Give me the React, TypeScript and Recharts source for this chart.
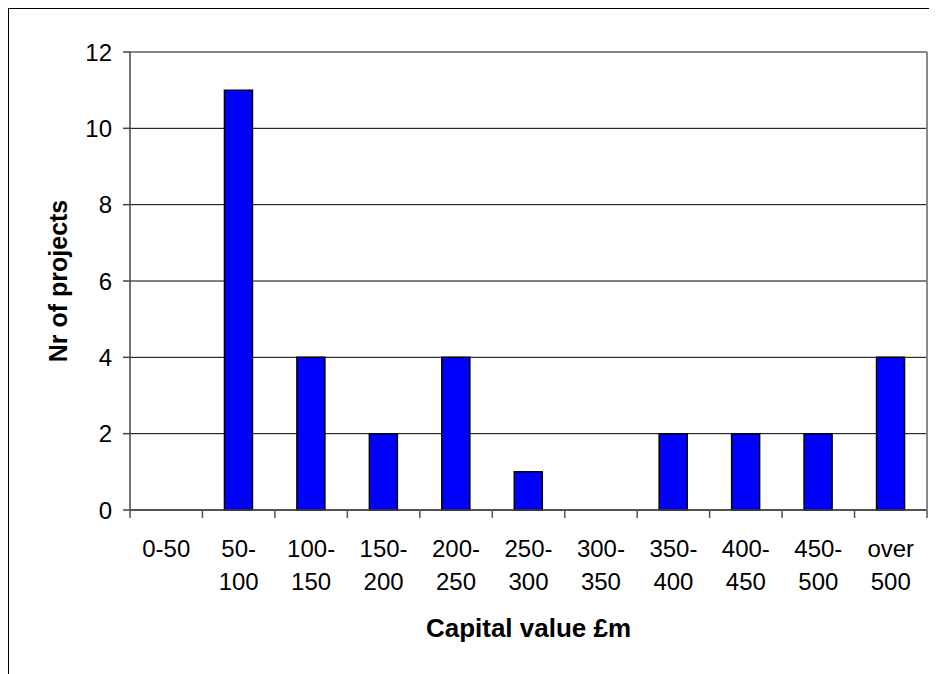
import { BarChart, Bar, XAxis, YAxis, CartesianGrid, ReferenceLine, Label } from 'recharts';

const categories = ['0-50', '50-100', '100-150', '150-200', '200-250', '250-300', '300-350', '350-400', '400-450', '450-500', 'over 500'];
const projectCounts = [0, 11, 4, 2, 4, 1, 0, 2, 2, 2, 4];
const tickLabels = [
  ['0-50'],
  ['50-', '100'],
  ['100-', '150'],
  ['150-', '200'],
  ['200-', '250'],
  ['250-', '300'],
  ['300-', '350'],
  ['350-', '400'],
  ['400-', '450'],
  ['450-', '500'],
  ['over', '500']
];
const yTicks = [0, 2, 4, 6, 8, 10, 12];

const FONT = '"Liberation Sans", Arial, sans-serif';

const data = categories.map((name, i) => ({ name, count: projectCounts[i] }));

// label in the middle of the band, tick marks on the band edges (Excel style)
function CategoryTick(props: any) {
  const { x, y, index, width, visibleTicksCount } = props;
  const band = width / visibleTicksCount;
  const lines = tickLabels[index];
  const left = x - band / 2;
  const right = x + band / 2;
  return (
    <g>
      <line x1={left} x2={left} y1={y - 8} y2={y} stroke="#555" strokeWidth={1.5} />
      {index === visibleTicksCount - 1 && (
        <line x1={right} x2={right} y1={y - 8} y2={y} stroke="#555" strokeWidth={1.5} />
      )}
      <text x={x} y={y} textAnchor="middle" fontSize={24} fill="#000" fontFamily={FONT}>
        {lines.map((l: string, i: number) => (
          <tspan key={i} x={x} dy={i === 0 ? 39 : 33}>
            {l}
          </tspan>
        ))}
      </text>
    </g>
  );
}

export default function App() {
  return (
    <div
      style={{
        width: 929,
        height: 666,
        borderLeft: '1px solid #000',
        borderTop: '1px solid #000',
        background: '#fff',
        fontFamily: FONT
      }}
    >
      <BarChart width={928} height={665} data={data} margin={{ top: 43, right: 0, bottom: 34, left: 61 }}>
        <CartesianGrid vertical={false} stroke="#000" strokeWidth={1} />
        <XAxis
          dataKey="name"
          interval={0}
          tick={<CategoryTick />}
          tickLine={false}
          tickSize={8}
          tickMargin={0}
          height={130}
          axisLine={{ stroke: '#444', strokeWidth: 1.5 }}
        >
          <Label
            value="Capital value £m"
            position="insideBottom"
            offset={3}
            style={{ fontSize: 26, fontWeight: 'bold', fill: '#000', fontFamily: FONT }}
          />
        </XAxis>
        <YAxis
          domain={[0, 12]}
          ticks={yTicks}
          interval={0}
          width={60}
          tickSize={7}
          tickMargin={11}
          tick={{ fontSize: 24, fill: '#000', fontFamily: FONT }}
          tickLine={{ stroke: '#444', strokeWidth: 1.5 }}
          axisLine={{ stroke: '#444', strokeWidth: 1.5 }}
        >
          <Label
            value="Nr of projects"
            angle={-90}
            position="left"
            offset={12}
            textAnchor="middle"
            style={{ fontSize: 25, fontWeight: 'bold', fill: '#000', fontFamily: FONT }}
          />
        </YAxis>
        {/* gray plot frame on the right */}
        <YAxis
          yAxisId="frame"
          orientation="right"
          domain={[0, 12]}
          ticks={yTicks}
          width={10}
          tick={false}
          tickLine={false}
          axisLine={{ stroke: '#888', strokeWidth: 2 }}
        />
        <ReferenceLine y={12} stroke="#888" strokeWidth={1.5} />
        <Bar dataKey="count" fill="#0000FF" stroke="#000" strokeWidth={1.5} barSize={28} isAnimationActive={false} />
      </BarChart>
    </div>
  );
}
